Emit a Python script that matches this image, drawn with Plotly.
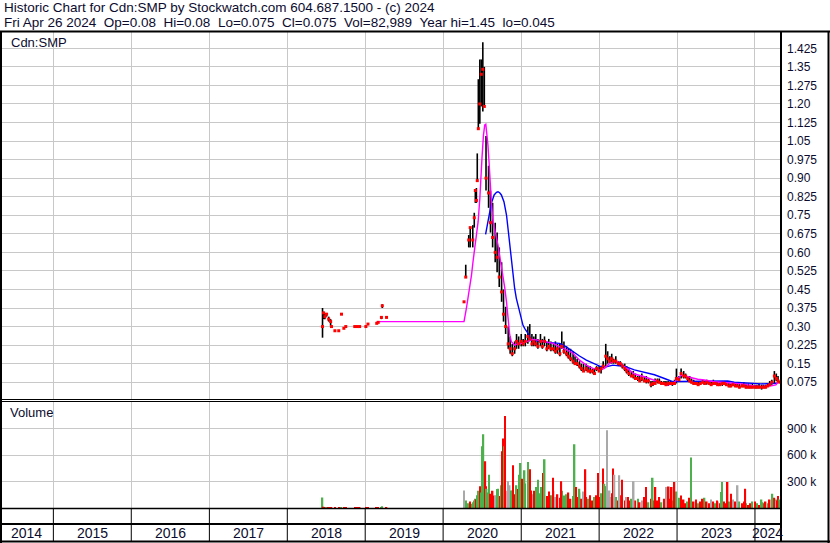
import pandas as pd
import plotly.graph_objects as go

# ---------------- text ----------------
header_line1 = "Historic Chart for Cdn:SMP by Stockwatch.com 604.687.1500 - (c) 2024"
header_line2_parts = ["Fri Apr 26 2024", "Op=0.08", "Hi=0.08", "Lo=0.075", "Cl=0.075",
                      "Vol=82,989", "Year hi=1.45", "lo=0.045"]
price_panel_label = "Cdn:SMP"
volume_panel_label = "Volume"

years = [2014, 2015, 2016, 2017, 2018, 2019, 2020, 2021, 2022, 2023, 2024]
x_range = ["2014-04-26", "2024-05-02"]

price_tickvals = [0.075, 0.15, 0.225, 0.30, 0.375, 0.45, 0.525, 0.60, 0.675, 0.75,
                  0.825, 0.90, 0.975, 1.05, 1.125, 1.20, 1.275, 1.35, 1.425]
price_ticktext = ["0.075", "0.15", "0.225", "0.30", "0.375", "0.45", "0.525", "0.60", "0.675",
                  "0.75", "0.825", "0.90", "0.975", "1.05", "1.125", "1.20", "1.275", "1.35", "1.425"]
vol_tickvals = [300000, 600000, 900000]
vol_ticktext = ["300 k", "600 k", "900 k"]

# ---------------- price bars ----------------
price_dates = [
    # 2018-2019 sparse trading
    "2018-06-15", "2018-06-20", "2018-06-26", "2018-07-04", "2018-07-14", "2018-07-23", "2018-07-27",
    "2018-08-12", "2018-08-30", "2018-09-12", "2018-09-23", "2018-10-02", "2018-11-13", "2018-11-25",
    "2018-12-06", "2019-01-04", "2019-01-14", "2019-02-24", "2019-03-03", "2019-03-18", "2019-03-22",
    "2019-04-11",
    # 2020 run-up
    "2020-04-08", "2020-04-16", "2020-04-30", "2020-05-07", "2020-05-19", "2020-05-26", "2020-05-31",
    "2020-06-05", "2020-06-09", "2020-06-14", "2020-06-21", "2020-06-28", "2020-07-05", "2020-07-12",
    # 2020 decline
    "2020-07-20", "2020-08-01", "2020-08-10", "2020-08-20", "2020-09-01", "2020-09-10", "2020-09-20",
    "2020-10-01", "2020-10-10", "2020-10-20", "2020-11-01", "2020-11-10", "2020-11-20", "2020-12-01",
    "2020-12-10", "2020-12-20",
    # 2021
    "2021-01-01", "2021-01-10", "2021-01-20", "2021-02-01", "2021-02-10", "2021-02-20", "2021-03-01",
    "2021-03-10", "2021-03-20", "2021-04-01", "2021-04-10", "2021-04-20", "2021-05-01", "2021-05-10",
    "2021-05-20", "2021-06-01", "2021-06-10", "2021-06-20", "2021-07-01", "2021-07-10", "2021-07-20",
    "2021-08-01", "2021-08-10", "2021-08-20", "2021-09-01", "2021-09-10", "2021-09-20", "2021-10-01",
    "2021-10-10", "2021-10-20", "2021-11-01", "2021-11-10", "2021-11-20", "2021-12-01", "2021-12-10",
    "2021-12-20",
    # 2022
    "2022-01-01", "2022-01-10", "2022-01-20", "2022-02-01", "2022-02-10", "2022-02-20", "2022-03-01",
    "2022-03-10", "2022-03-20", "2022-04-01", "2022-04-10", "2022-04-20", "2022-05-01", "2022-05-10",
    "2022-05-20", "2022-06-01", "2022-06-10", "2022-06-20", "2022-07-01", "2022-07-10", "2022-07-20",
    "2022-08-01", "2022-08-10", "2022-08-20", "2022-09-01", "2022-09-10", "2022-09-20", "2022-10-01",
    "2022-10-10", "2022-10-20", "2022-11-01", "2022-11-10", "2022-11-20", "2022-12-01", "2022-12-10",
    "2022-12-20", "2022-12-29",
    # 2023
    "2023-01-10", "2023-01-20", "2023-02-01", "2023-02-10", "2023-02-20", "2023-03-01", "2023-03-10",
    "2023-03-20", "2023-04-01", "2023-04-10", "2023-04-20", "2023-05-01", "2023-05-10", "2023-05-20",
    "2023-06-01", "2023-06-10", "2023-06-20", "2023-07-01", "2023-07-10", "2023-07-20", "2023-08-01",
    "2023-08-10", "2023-08-20", "2023-09-01", "2023-09-10", "2023-09-20", "2023-10-01", "2023-10-10",
    "2023-10-20", "2023-11-01", "2023-11-10", "2023-11-20", "2023-12-01", "2023-12-10", "2023-12-20",
    # 2024
    "2024-01-01", "2024-01-10", "2024-01-20", "2024-02-01", "2024-02-10", "2024-02-20", "2024-03-01",
    "2024-03-10", "2024-03-20", "2024-04-01", "2024-04-10", "2024-04-18", "2024-04-26",
]
price_high = [
    0.375, 0.36, 0.355, 0.355, 0.34, 0.33, 0.30, 0.283, 0.283, 0.35, 0.293, 0.30, 0.30, 0.30,
    0.30, 0.30, 0.31, 0.313, 0.317, 0.34, 0.39, 0.34,
    0.40, 0.55, 0.67, 0.70, 0.71, 0.76, 0.85, 0.86, 1.00, 1.30, 1.38, 1.38, 1.45, 1.35,
    1.07, 0.95, 0.85, 0.80, 0.72, 0.68, 0.62, 0.56, 0.45, 0.38, 0.30, 0.26, 0.23, 0.24, 0.27, 0.26,
    0.27, 0.25, 0.27, 0.30, 0.31, 0.27, 0.26, 0.27, 0.25, 0.27, 0.25, 0.26, 0.24, 0.25, 0.24, 0.23,
    0.24, 0.23, 0.23, 0.28, 0.24, 0.22, 0.21, 0.21, 0.20, 0.18, 0.17, 0.16, 0.15, 0.15, 0.15, 0.14,
    0.14, 0.13, 0.13, 0.14,
    0.14, 0.14, 0.16, 0.23, 0.20, 0.18, 0.19, 0.17, 0.18, 0.16, 0.16, 0.15, 0.15, 0.14, 0.13, 0.12,
    0.12, 0.11, 0.10, 0.10, 0.11, 0.10, 0.10, 0.09, 0.08, 0.08, 0.09, 0.09, 0.09, 0.08, 0.08, 0.08,
    0.08, 0.08, 0.08, 0.085, 0.13,
    0.10, 0.13, 0.12, 0.11, 0.10, 0.10, 0.09, 0.085, 0.08, 0.08, 0.08, 0.085, 0.08, 0.085, 0.08, 0.08,
    0.085, 0.08, 0.08, 0.075, 0.08, 0.08, 0.075, 0.075, 0.07, 0.075, 0.075, 0.07, 0.07, 0.07, 0.075,
    0.07, 0.07, 0.065, 0.07,
    0.065, 0.065, 0.07, 0.065, 0.065, 0.065, 0.07, 0.08, 0.085, 0.12, 0.11, 0.10, 0.08,
]
price_low = [
    0.255, 0.33, 0.33, 0.34, 0.32, 0.30, 0.30, 0.283, 0.283, 0.35, 0.293, 0.30, 0.30, 0.30,
    0.30, 0.30, 0.31, 0.313, 0.317, 0.33, 0.375, 0.335,
    0.40, 0.50, 0.62, 0.62, 0.62, 0.70, 0.80, 0.80, 0.89, 1.10, 1.12, 1.19, 1.17, 1.19,
    0.85, 0.78, 0.68, 0.62, 0.56, 0.52, 0.46, 0.40, 0.32, 0.27, 0.21, 0.19, 0.18, 0.19, 0.21, 0.21,
    0.22, 0.22, 0.22, 0.23, 0.24, 0.22, 0.22, 0.22, 0.21, 0.22, 0.21, 0.22, 0.20, 0.21, 0.20, 0.20,
    0.19, 0.19, 0.18, 0.21, 0.19, 0.18, 0.17, 0.16, 0.15, 0.15, 0.14, 0.13, 0.12, 0.12, 0.12, 0.12,
    0.11, 0.11, 0.11, 0.12,
    0.12, 0.11, 0.13, 0.14, 0.15, 0.15, 0.15, 0.15, 0.15, 0.14, 0.14, 0.13, 0.12, 0.11, 0.10, 0.10,
    0.09, 0.09, 0.08, 0.08, 0.08, 0.08, 0.07, 0.07, 0.055, 0.06, 0.07, 0.07, 0.07, 0.065, 0.065, 0.06,
    0.06, 0.065, 0.06, 0.065, 0.07,
    0.08, 0.09, 0.09, 0.09, 0.08, 0.075, 0.07, 0.065, 0.065, 0.06, 0.065, 0.07, 0.065, 0.065, 0.065,
    0.06, 0.065, 0.065, 0.06, 0.06, 0.06, 0.065, 0.06, 0.055, 0.055, 0.06, 0.055, 0.055, 0.05, 0.055,
    0.055, 0.05, 0.05, 0.05, 0.05,
    0.05, 0.05, 0.05, 0.045, 0.05, 0.05, 0.055, 0.06, 0.065, 0.07, 0.08, 0.075, 0.075,
]
price_close = [
    0.30, 0.355, 0.34, 0.35, 0.33, 0.32, 0.30, 0.283, 0.283, 0.35, 0.293, 0.30, 0.30, 0.30,
    0.30, 0.30, 0.31, 0.313, 0.317, 0.337, 0.384, 0.337,
    0.40, 0.50, 0.65, 0.70, 0.65, 0.74, 0.85, 0.81, 0.89, 1.10, 1.20, 1.32, 1.34, 1.19,
    0.90, 0.84, 0.72, 0.66, 0.60, 0.58, 0.50, 0.44, 0.35, 0.30, 0.23, 0.21, 0.19, 0.21, 0.24, 0.23,
    0.24, 0.23, 0.24, 0.26, 0.25, 0.23, 0.24, 0.23, 0.22, 0.24, 0.22, 0.24, 0.21, 0.22, 0.21, 0.21,
    0.20, 0.21, 0.19, 0.22, 0.20, 0.19, 0.18, 0.17, 0.16, 0.15, 0.15, 0.14, 0.13, 0.12, 0.13, 0.12,
    0.12, 0.12, 0.11, 0.13,
    0.12, 0.13, 0.14, 0.18, 0.17, 0.16, 0.17, 0.16, 0.16, 0.15, 0.15, 0.14, 0.13, 0.12, 0.11, 0.10,
    0.10, 0.09, 0.09, 0.08, 0.09, 0.08, 0.08, 0.08, 0.065, 0.07, 0.07, 0.08, 0.075, 0.07, 0.07, 0.065,
    0.07, 0.07, 0.07, 0.07, 0.09,
    0.085, 0.11, 0.10, 0.10, 0.09, 0.08, 0.075, 0.07, 0.07, 0.065, 0.07, 0.075, 0.07, 0.075, 0.07,
    0.065, 0.07, 0.07, 0.065, 0.065, 0.07, 0.07, 0.065, 0.06, 0.06, 0.065, 0.06, 0.06, 0.055, 0.06,
    0.06, 0.055, 0.055, 0.055, 0.055,
    0.055, 0.055, 0.055, 0.055, 0.055, 0.055, 0.06, 0.065, 0.075, 0.10, 0.09, 0.08, 0.075,
]

# ---------------- moving averages ----------------
ma_short_dates = [
    "2019-02-24", "2020-04-08", "2020-04-19", "2020-04-27", "2020-05-05", "2020-05-13", "2020-05-20",
    "2020-05-28", "2020-06-05", "2020-06-13", "2020-06-21", "2020-06-25", "2020-07-01", "2020-07-08",
    "2020-07-14", "2020-07-19", "2020-07-23", "2020-07-29", "2020-08-03", "2020-08-08", "2020-08-14",
    "2020-08-22", "2020-08-30", "2020-09-07", "2020-09-14", "2020-09-22", "2020-09-30", "2020-10-08",
    "2020-10-16", "2020-10-24", "2020-10-31", "2020-11-08", "2020-11-16", "2020-12-01", "2020-12-17",
    "2021-01-02", "2021-01-25", "2021-02-25", "2021-03-28", "2021-04-29", "2021-05-29", "2021-06-30",
    "2021-07-31", "2021-08-31", "2021-10-01", "2021-11-02", "2021-12-03", "2022-01-03", "2022-01-26",
    "2022-02-19", "2022-03-14", "2022-04-06", "2022-04-30", "2022-05-23", "2022-06-15", "2022-08-01",
    "2022-09-17", "2022-11-18", "2022-12-12", "2023-01-04", "2023-01-20", "2023-02-20", "2023-04-08",
    "2023-05-09", "2023-06-25", "2023-08-26", "2023-10-28", "2023-12-29", "2024-01-29", "2024-03-16",
    "2024-04-08", "2024-04-19",
]
ma_short_vals = [
    0.32, 0.32, 0.373, 0.414, 0.455, 0.508, 0.562, 0.616, 0.670, 0.724, 0.818, 0.913, 0.980, 1.074,
    1.115, 1.118, 1.088, 1.034, 0.966, 0.886, 0.805, 0.724, 0.683, 0.657, 0.630, 0.589, 0.549, 0.508,
    0.455, 0.400, 0.319, 0.266, 0.239, 0.225, 0.232, 0.232, 0.239, 0.248, 0.244, 0.239, 0.232, 0.218,
    0.207, 0.192, 0.164, 0.144, 0.131, 0.124, 0.131, 0.151, 0.160, 0.155, 0.137, 0.124, 0.108, 0.097,
    0.084, 0.064, 0.068, 0.091, 0.104, 0.097, 0.087, 0.084, 0.077, 0.073, 0.068, 0.060, 0.057, 0.060,
    0.064, 0.077,
]
ma_long_dates = [
    "2020-07-18", "2020-07-29", "2020-08-14", "2020-08-27", "2020-09-07", "2020-09-14", "2020-09-22",
    "2020-09-30", "2020-10-12", "2020-10-24", "2020-10-31", "2020-11-08", "2020-11-16", "2020-11-23",
    "2020-12-01", "2020-12-09", "2020-12-17", "2020-12-25", "2021-01-02", "2021-01-09", "2021-01-17",
    "2021-02-02", "2021-02-13", "2021-02-25", "2021-04-29", "2021-06-30", "2021-07-31", "2021-08-31",
    "2021-10-01", "2021-11-02", "2021-12-03", "2022-01-03", "2022-02-03", "2022-03-06", "2022-04-06",
    "2022-05-08", "2022-06-15", "2022-08-01", "2022-09-17", "2022-11-03", "2022-12-12", "2023-01-12",
    "2023-04-24", "2023-08-26", "2023-09-26", "2024-01-29", "2024-04-16",
]
ma_long_vals = [
    0.673, 0.724, 0.798, 0.832, 0.843, 0.845, 0.841, 0.832, 0.805, 0.751, 0.697, 0.616, 0.562, 0.508,
    0.455, 0.414, 0.387, 0.354, 0.326, 0.306, 0.293, 0.272, 0.252, 0.245, 0.236, 0.232, 0.218, 0.198,
    0.181, 0.164, 0.151, 0.140, 0.137, 0.144, 0.141, 0.137, 0.125, 0.115, 0.105, 0.090, 0.077, 0.078,
    0.078, 0.080, 0.075, 0.068, 0.071,
]

# ---------------- volume (thousands) ----------------
# background volume at each price date; colour code g=up r=down k=unchanged
vol_small = [
    124, 20, 15, 10, 12, 8, 10, 6, 8, 15, 6, 10, 8, 12, 6, 8, 10, 6, 8, 10, 25, 8,
    40, 90, 60, 80, 70, 90, 110, 100, 150, 200, 250, 180, 220, 160,
    250, 180, 160, 200, 150, 220, 140, 260, 300, 200, 240, 180, 200, 160, 260, 220,
    240, 200, 280, 220, 260, 160, 200, 150, 230, 170, 210, 150, 140, 190, 150, 200, 130, 160,
    120, 200, 140, 160, 180, 110, 140, 160, 130, 180, 110, 190, 130, 110, 150, 90, 130, 150,
    130, 170, 110, 250, 150, 130, 170, 110, 130, 90, 150, 110, 90, 130, 90, 110, 70, 90, 110,
    70, 90, 130, 90, 70, 110, 90, 70, 90, 130, 70, 110, 90, 70, 110, 90, 130, 190,
    120, 80, 100, 60, 80, 120, 60, 80, 100, 60, 80, 60, 120, 80, 60, 100, 80, 60, 80, 60, 100,
    80, 60, 80, 60, 100, 80, 60, 80, 60, 80, 60, 40, 60, 80,
    80, 60, 40, 100, 60, 80, 60, 100, 80, 120, 100, 140, 100,
]
vol_small_col = (
    "grrgrrrrrgrrrrrrrrrggr"
    "gggrgggrggrggr"
    "rgrrkgrgrrgrgrgr"
    "rggrrkrgrgrkrrgrkrrgrgrrgrrgrkrgrrgr"
    "rgrgrkrrgrrgrkrgrrgrkrrgrrgrrgrkrrgrg"
    "ggrrgrkrrgrrgrrkrgrrgrrgrkrrgrrgrrg"
    "rgrgrrgrgrgrg"
)
spike_dates = [
    "2020-04-08", "2020-05-17", "2020-07-03", "2020-07-08", "2020-07-14", "2020-07-17", "2020-07-23",
    "2020-08-03", "2020-08-10", "2020-08-22", "2020-09-14", "2020-10-05", "2020-10-11", "2020-10-14",
    "2020-10-17", "2020-10-31", "2020-11-08", "2020-11-16", "2020-11-23", "2020-12-09", "2020-12-21",
    "2020-12-29", "2021-01-06", "2021-01-17", "2021-02-02", "2021-02-10", "2021-02-17", "2021-03-13",
    "2021-03-20", "2021-04-05", "2021-04-13", "2021-04-21", "2021-05-14", "2021-05-29", "2021-07-08",
    "2021-07-23", "2021-09-08", "2021-09-16", "2021-10-01", "2021-10-29", "2021-12-26", "2022-01-18",
    "2022-01-26", "2022-01-31", "2022-02-08", "2022-02-19", "2022-03-06", "2022-03-14", "2022-04-06",
    "2022-04-17", "2022-05-15", "2022-06-12", "2022-08-09", "2022-09-09", "2022-09-22", "2022-11-11",
    "2022-11-23", "2022-12-07", "2022-12-20", "2023-01-20", "2023-03-08", "2023-05-01", "2023-07-06",
    "2023-07-29", "2023-07-31", "2023-08-26", "2023-09-11", "2023-10-12", "2023-11-17", "2024-02-06",
    "2024-03-23", "2024-04-08", "2024-04-16",
]
spike_vol = [
    203, 53, 700, 835, 222, 530, 222, 380, 166, 147, 222, 643, 787, 700, 1038, 305, 260, 203, 485,
    203, 380, 511, 335, 429, 523, 440, 203, 241, 324, 241, 399, 553, 147, 346, 305, 147, 722, 241,
    222, 440, 399, 448, 279, 248, 880, 203, 448, 380, 372, 324, 128, 305, 241, 346, 241, 241, 248,
    241, 297, 147, 572, 109, 90, 185, 297, 297, 166, 260, 222, 71, 166, 90, 90,
]
spike_col = (
    "kgggkrggrrgrrgrkkgrggg"
    "rggrrgggrgrrrgg"
    "rgrrrggkkrkkrrkrgrkrrrrgrrggrrkrggkrr"
)

# ---------------- geometry helpers ----------------
W, H = 830, 543


def px(x):
    return x / W


def py(y):
    return (H - y) / H


TEXT = "#0b0b2e"
GRID = "#c8c8c8"
COLMAP = {"g": "#4cb04c", "r": "#ff0000", "k": "#a9a9a9"}

fig = go.Figure()

# high-low bars
bx, by = [], []
for d, hi, lo in zip(price_dates, price_high, price_low):
    bx += [d, d, None]
    by += [lo, hi, None]
fig.add_trace(go.Scatter(x=bx, y=by, mode="lines", line=dict(color="black", width=1.6),
                         xaxis="x", yaxis="y", hoverinfo="skip"))
# moving averages
fig.add_trace(go.Scatter(x=ma_long_dates, y=ma_long_vals, mode="lines",
                         line=dict(color="#0000ff", width=1.4), xaxis="x", yaxis="y"))
fig.add_trace(go.Scatter(x=ma_short_dates, y=ma_short_vals, mode="lines",
                         line=dict(color="#ff00ff", width=1.4), xaxis="x", yaxis="y"))
# closes
fig.add_trace(go.Scatter(x=price_dates, y=price_close, mode="markers",
                         marker=dict(symbol="square", size=3, color="#ff0000", line=dict(width=0)),
                         xaxis="x", yaxis="y"))

# volume
bar_w = 6.0e8
fig.add_trace(go.Bar(x=price_dates[:len(vol_small)], y=[v * 1000 for v in vol_small],
                     marker=dict(color=[COLMAP[c] for c in vol_small_col[:len(vol_small)]], line=dict(width=0)),
                     width=bar_w, xaxis="x2", yaxis="y2"))
fig.add_trace(go.Bar(x=spike_dates, y=[v * 1000 for v in spike_vol],
                     marker=dict(color=[COLMAP[c] for c in spike_col[:len(spike_vol)]], line=dict(width=0)),
                     width=bar_w, xaxis="x2", yaxis="y2"))

xa = dict(type="date", domain=[0, px(781)], range=x_range, showgrid=True, gridcolor=GRID, gridwidth=1,
          tick0="2015-01-01", dtick="M12", showticklabels=False, ticks="", zeroline=False, showline=False)
tickfont = dict(family="Liberation Sans, Arial, sans-serif", size=12, color=TEXT)

fig.update_layout(
    width=W, height=H, margin=dict(l=0, r=0, t=0, b=0),
    paper_bgcolor="white", plot_bgcolor="white", showlegend=False, hovermode=False, barmode="overlay",
    xaxis=dict(xa, anchor="y"),
    xaxis2=dict(xa, anchor="y2", matches="x"),
    yaxis=dict(domain=[py(400), py(31)], range=[0.003, 1.495], side="right", anchor="x",
               tickvals=price_tickvals, ticktext=price_ticktext, showgrid=True, gridcolor=GRID,
               ticks="", zeroline=False, showline=False, tickfont=tickfont, ticklabelstandoff=5),
    yaxis2=dict(domain=[py(508.5), py(402)], range=[0, 1196000], side="right", anchor="x2",
                tickvals=vol_tickvals, ticktext=vol_ticktext, showgrid=True, gridcolor=GRID,
                ticks="", zeroline=False, showline=False, tickfont=tickfont, ticklabelstandoff=5),
)

# ---------------- frame ----------------
shapes = []


def hline(y, x0, x1, w=1.0):
    shapes.append(dict(type="line", xref="paper", yref="paper", x0=px(x0), x1=px(x1), y0=py(y), y1=py(y),
                       line=dict(color="black", width=w)))


def vline(x, y0, y1, w=1.0):
    shapes.append(dict(type="line", xref="paper", yref="paper", x0=px(x), x1=px(x), y0=py(y0), y1=py(y1),
                       line=dict(color="black", width=w)))


hline(31.5, 0, 830, 2)
hline(399.5, 0, 781, 1)
hline(401.5, 0, 781, 1)
hline(508.5, 0, 781, 1.5)
hline(524, 0, 781, 2)
hline(541.5, 0, 830, 2)
vline(1, 31, 543, 2)
vline(828.5, 31, 543, 2)
vline(781, 31, 542, 2)

for yr in years[1:]:
    shapes.append(dict(type="line", xref="x", yref="paper", x0=f"{yr}-01-01", x1=f"{yr}-01-01",
                       y0=py(541), y1=py(508.5), line=dict(color="black", width=1)))

fig.update_layout(shapes=shapes)

# ---------------- text ----------------
ann = []
font13 = dict(family="Liberation Sans, Arial, sans-serif", size=13, color=TEXT)
ann.append(dict(text=header_line1, xref="paper", yref="paper", x=px(3), y=py(8), xanchor="left",
                yanchor="middle", showarrow=False, font=dict(font13, size=13.5), borderpad=0))
ann.append(dict(text="\u00a0\u00a0".join(header_line2_parts), xref="paper", yref="paper", x=px(3), y=py(22),
                xanchor="left", yanchor="middle", showarrow=False, font=dict(font13, size=13.5), borderpad=0))
ann.append(dict(text=price_panel_label, xref="paper", yref="paper", x=px(9), y=py(42), xanchor="left",
                yanchor="middle", showarrow=False, font=font13))
ann.append(dict(text=volume_panel_label, xref="paper", yref="paper", x=px(8), y=py(412), xanchor="left",
                yanchor="middle", showarrow=False, font=font13))

r0, r1 = pd.Timestamp(x_range[0]), pd.Timestamp(x_range[1])
yearfont = dict(family="Liberation Sans Narrow, Arial Narrow, Liberation Sans, sans-serif", size=14, color=TEXT)
for yr in years:
    a = max(r0, pd.Timestamp(f"{yr}-01-01"))
    b = min(r1, pd.Timestamp(f"{yr + 1}-01-01"))
    mid = a + (b - a) / 2
    ann.append(dict(text=str(yr), xref="x", yref="paper", x=mid, y=py(533), xanchor="center",
                    yanchor="middle", showarrow=False, font=yearfont))
fig.update_layout(annotations=ann)

fig.write_html("out.html", config={"displayModeBar": False},
               post_script="document.body.style.margin='0px';document.body.style.overflow='hidden';")
